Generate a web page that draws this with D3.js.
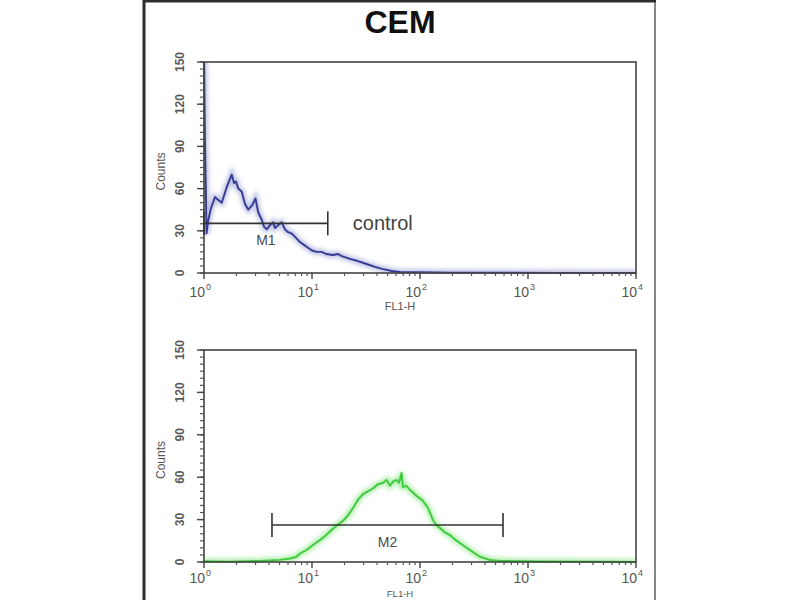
<!DOCTYPE html>
<html>
<head>
<meta charset="utf-8">
<script src="https://cdn.jsdelivr.net/npm/d3@7"></script>
<style>
  html, body { margin: 0; padding: 0; background: #fff; }
  svg { display: block; }
  text { font-family: "Liberation Sans", Arial, sans-serif; }
</style>
</head>
<body>
<svg id="chart" width="800" height="600"></svg>
<script>
// ---------- data ----------
const title = "CEM";
const xDecades = [0, 1, 2, 3, 4];
const yTicks = [0, 30, 60, 90, 120, 150];
const xAxisLabel = "FL1-H";
const yAxisLabel = "Counts";

// control histogram (blue)
const controlFL = [1.0, 1.02, 1.04, 1.055, 1.096, 1.16, 1.264, 1.35, 1.459, 1.623, 1.70, 1.805, 1.896, 1.977, 2.078, 2.234, 2.397, 2.571, 2.78, 2.996, 3.18, 3.42, 3.59, 3.81, 4.08, 4.36, 4.54, 4.85, 5.24, 5.62, 6.00, 6.52, 7.11, 7.74, 8.43, 9.18, 10.0, 11.04, 12.3, 13.5, 15.6, 17.4, 18.9, 22.4, 26.6, 32.0, 38.3, 45.5, 55.0, 65.0, 100, 190, 550, 1970, 10000];
const controlCounts = [160, 95, 60, 28, 37.7, 46, 54, 52, 50, 61, 65, 70, 64, 65, 60, 58, 49, 45, 48, 53, 43, 38, 33, 31, 34, 36, 32, 34, 36, 31, 29, 28, 25, 22, 20, 18, 16, 15, 15, 13.5, 12.8, 13.5, 12, 10, 8.5, 6.4, 4.3, 2.8, 1.4, 0.7, 0.5, 0.3, 0.2, 0.1, 0];

// sample histogram (green)
const sampleFL = [1.0, 1.74, 3.3, 5.05, 6.25, 7.2, 7.74, 8.93, 10.2, 11.86, 13.5, 15.6, 17.4, 19.3, 21.5, 23.9, 26.6, 29.6, 32.9, 36.6, 40.7, 45.5, 49.2, 52.8, 56.3, 60.9, 64, 67.4, 69.5, 74.2, 80.9, 86.5, 93.5, 100, 107, 119, 133, 143, 153, 170, 190, 210, 234, 260, 290, 323, 358, 400, 443, 550, 1290, 4640, 10000];
const sampleCounts = [0.5, 0.3, 0.8, 1.5, 2.5, 3.7, 6, 8.5, 12, 15.6, 19, 23.5, 26.5, 29, 33, 38, 44, 48, 50, 52, 55, 56, 58, 54, 57, 58, 56, 63, 53, 54, 51, 49, 46.5, 45, 43, 38, 29, 26, 24, 21, 19, 16, 13.4, 11, 8.5, 6, 3.7, 2.5, 1.4, 0.8, 0.4, 0.2, 0];

// markers
const markerNames = ["M1", "M2"];
const markerStart = [1.0, 4.26];
const markerEnd = [14.0, 587];
const markerLevel = [35.3, 26.2];
const panelNote = ["control", ""];

// ---------- drawing ----------
const svg = d3.select("#chart");

// outer frame
svg.append("line").attr("x1", 144).attr("x2", 144).attr("y1", 0).attr("y2", 600)
  .attr("stroke", "#2e2e2e").attr("stroke-width", 3);
svg.append("line").attr("x1", 655).attr("x2", 655).attr("y1", 0).attr("y2", 600)
  .attr("stroke", "#858585").attr("stroke-width", 2);
svg.append("line").attr("x1", 143).attr("x2", 656).attr("y1", 1).attr("y2", 1)
  .attr("stroke", "#2e2e2e").attr("stroke-width", 3);

svg.append("text").attr("x", 400).attr("y", 33).attr("text-anchor", "middle")
  .attr("font-size", 32).attr("font-weight", "bold").attr("fill", "#111").text(title);

const defs = svg.append("defs");
const glow = defs.append("filter").attr("id", "glow").attr("x", "-10%").attr("y", "-10%").attr("width", "120%").attr("height", "120%");
glow.append("feGaussianBlur").attr("stdDeviation", 2.2);

const panels = [
  { top: 62, bottom: 273, fl: controlFL, counts: controlCounts, color: "#363b94", halo: "#a3a7d8", idx: 0, tickLabOff: 24, xlabY: 310, xlabSize: 11 },
  { top: 350, bottom: 562, fl: sampleFL, counts: sampleCounts, color: "#3fc93f", halo: "#8fe88a", idx: 1, tickLabOff: 21, xlabY: 597, xlabSize: 9.5 }
];

const left = 204, right = 636;

panels.forEach((p, k) => {
  const x = d3.scaleLog().domain([1, 10000]).range([left, right]);
  const y = d3.scaleLinear().domain([0, 150]).range([p.bottom, p.top]);
  const g = svg.append("g");

  const clipId = "clip" + k;
  defs.append("clipPath").attr("id", clipId).append("rect")
    .attr("x", left - 1).attr("y", p.top).attr("width", right - left + 2).attr("height", p.bottom - p.top + 1);

  // histogram
  const line = d3.line().x((d, i) => x(p.fl[i])).y(d => y(d)).curve(d3.curveLinear);
  const hg = g.append("g").attr("clip-path", `url(#${clipId})`);
  hg.append("path").datum(p.counts).attr("d", line).attr("fill", "none")
    .attr("stroke", p.halo).attr("stroke-width", 6).attr("opacity", 0.7).attr("filter", "url(#glow)");
  hg.append("path").datum(p.counts).attr("d", line).attr("fill", "none")
    .attr("stroke", p.color).attr("stroke-width", 1.9).attr("stroke-linejoin", "round");

  // box
  g.append("rect").attr("x", left).attr("y", p.top).attr("width", right - left).attr("height", p.bottom - p.top)
    .attr("fill", "none").attr("stroke", "#444").attr("stroke-width", 1.6);

  // y ticks
  const minorY = d3.range(0, 151, 5);
  g.selectAll(".ymin").data(minorY).join("line")
    .attr("x1", left - 4).attr("x2", left).attr("y1", d => y(d)).attr("y2", d => y(d))
    .attr("stroke", "#555").attr("stroke-width", 1.2);
  g.selectAll(".ymaj").data(yTicks).join("line")
    .attr("x1", left - 7).attr("x2", left).attr("y1", d => y(d)).attr("y2", d => y(d))
    .attr("stroke", "#444").attr("stroke-width", 1.4);
  g.selectAll(".ylab").data(yTicks).join("text")
    .attr("transform", d => `translate(${left - 20},${y(d)}) rotate(-90)`)
    .attr("text-anchor", "middle").attr("font-size", 12).attr("font-weight", "bold")
    .attr("fill", "#5a5a5a").text(d => d);
  g.append("text")
    .attr("transform", `translate(165,${(p.top + p.bottom) / 2 + 4}) rotate(-90)`)
    .attr("text-anchor", "middle").attr("font-size", 12).attr("fill", "#555").text(yAxisLabel);

  // x ticks
  const minorX = [];
  for (let dcd = 0; dcd < 4; dcd++) for (let m = 2; m <= 9; m++) minorX.push(m * Math.pow(10, dcd));
  g.selectAll(".xmin").data(minorX).join("line")
    .attr("x1", d => x(d)).attr("x2", d => x(d)).attr("y1", p.bottom).attr("y2", p.bottom + 3)
    .attr("stroke", "#555").attr("stroke-width", 1.2);
  g.selectAll(".xmaj").data(xDecades).join("line")
    .attr("x1", d => x(Math.pow(10, d))).attr("x2", d => x(Math.pow(10, d)))
    .attr("y1", p.bottom).attr("y2", p.bottom + 6)
    .attr("stroke", "#444").attr("stroke-width", 1.4);
  const xl = g.selectAll(".xlab").data(xDecades).join("g");
  xl.append("text").attr("x", d => x(Math.pow(10, d)) + 1).attr("y", p.bottom + p.tickLabOff)
    .attr("text-anchor", "end").attr("font-size", 14).attr("fill", "#555").text("10");
  xl.append("text").attr("x", d => x(Math.pow(10, d)) + 2).attr("y", p.bottom + p.tickLabOff - 7)
    .attr("text-anchor", "start").attr("font-size", 9).attr("fill", "#555").text(d => d);
  g.append("text").attr("x", 400).attr("y", p.xlabY).attr("text-anchor", "middle")
    .attr("font-size", p.xlabSize).attr("fill", "#555").text(xAxisLabel);

  // marker
  const mi = p.idx;
  const my = y(markerLevel[mi]);
  const mx1 = x(markerStart[mi]), mx2 = x(markerEnd[mi]);
  g.append("line").attr("x1", mx1).attr("x2", mx2).attr("y1", my).attr("y2", my)
    .attr("stroke", "#333").attr("stroke-width", 1.6);
  [mx1, mx2].forEach(mx => g.append("line").attr("x1", mx).attr("x2", mx)
    .attr("y1", my - 12).attr("y2", my + 12).attr("stroke", "#333").attr("stroke-width", 1.6));
  const gm = Math.sqrt(markerStart[mi] * markerEnd[mi]);
  g.append("text").attr("x", x(gm)).attr("y", my + 22).attr("text-anchor", "middle")
    .attr("font-size", 14).attr("fill", "#4a4a4a").text(markerNames[mi]);
  if (panelNote[mi]) {
    g.append("text").attr("x", mx2 + 25).attr("y", my + 7)
      .attr("font-family", "DejaVu Sans").attr("font-size", 20).attr("fill", "#444").text(panelNote[mi]);
  }
});
</script>
</body>
</html>
